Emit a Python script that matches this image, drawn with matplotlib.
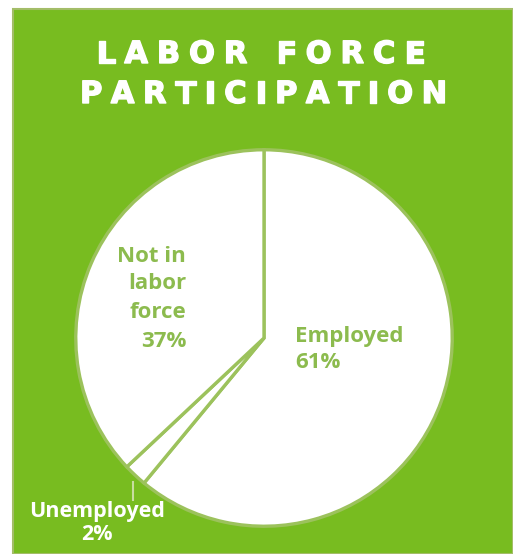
import matplotlib
matplotlib.use("Agg")
import matplotlib.pyplot as plt
import matplotlib.patheffects as pe
from matplotlib.patches import Rectangle

# ---- data ----
categories = ["Employed", "Unemployed", "Not in labor force"]
values = [61, 2, 37]
title_lines = ["LABOR FORCE", "PARTICIPATION"]

W, H = 513, 554
GREEN = "#78BC20"
EDGE = "#9CC25C"
LABEL = "#8CBB4E"

fig = plt.figure(figsize=(W / 100, H / 100), dpi=100)
fig.patch.set_facecolor("white")

# background axes in pixel coords
bg = fig.add_axes([0, 0, 1, 1])
bg.set_xlim(0, W)
bg.set_ylim(H, 0)
bg.axis("off")
bg.add_patch(Rectangle((13, 9), W - 13, H - 9, facecolor=GREEN, edgecolor="#A3BD68", lw=1.5))

# pie axes
cx, cy, r = 264, 338, 192
pax = fig.add_axes([(cx - r) / W, (H - cy - r) / H, 2 * r / W, 2 * r / H])
pax.pie(values, startangle=90, counterclock=False, colors=["white"] * len(values),
        wedgeprops=dict(edgecolor=EDGE, linewidth=2.4, joinstyle="miter"))
pax.set_xlim(-1.02, 1.02)
pax.set_ylim(-1.02, 1.02)
pax.set_aspect("equal")
pax.axis("off")

# overlay for text
ov = fig.add_axes([0, 0, 1, 1])
ov.set_xlim(0, W)
ov.set_ylim(H, 0)
ov.axis("off")
ov.patch.set_alpha(0)

renderer = fig.canvas.get_renderer()


def tracked(text, x0, x1, baseline, size):
    props = dict(fontsize=size, fontweight="bold", family="DejaVu Sans", color="white")
    widths = []
    for ch in text:
        if ch == " ":
            widths.append(None)
            continue
        t = ov.text(0, 0, ch, **props)
        bb = t.get_window_extent(renderer)
        widths.append(bb.width)
        t.remove()
    space = size * 100 / 72 * 0.35
    total = sum(w if w is not None else space for w in widths)
    n = len(text)
    track = (x1 - x0 - total) / (n - 1)
    x = x0
    for ch, w in zip(text, widths):
        if w is None:
            x += space + track
            continue
        ov.text(x, baseline, ch, ha="left", va="baseline",
                path_effects=[pe.withStroke(linewidth=1.0, foreground="white")], **props)
        x += w + track


tracked(title_lines[0], 96, 425, 63, 22)
tracked(title_lines[1], 80, 447, 103, 22)

lab = dict(fontsize=16, fontweight="bold", family="Open Sans", color=LABEL, va="baseline")
for s, yb in zip(["Not in", "labor", "force", f"{values[2]}%"], [262, 289, 318, 347]):
    ov.text(186, yb, s, ha="right", **lab)
ov.text(295, 342, categories[0], ha="left", **lab)
ov.text(295, 368, f"{values[0]}%", ha="left", **lab)

wl = dict(lab)
wl["color"] = "white"
wl["fontsize"] = 15.5
ov.text(97, 517, categories[1], ha="center", **wl)
ov.text(97, 540, f"{values[1]}%", ha="center", **wl)
ov.plot([133, 133], [482, 500], color="#C8DDA0", lw=1.5)

fig.savefig("out.png", dpi=100, facecolor=fig.get_facecolor())
